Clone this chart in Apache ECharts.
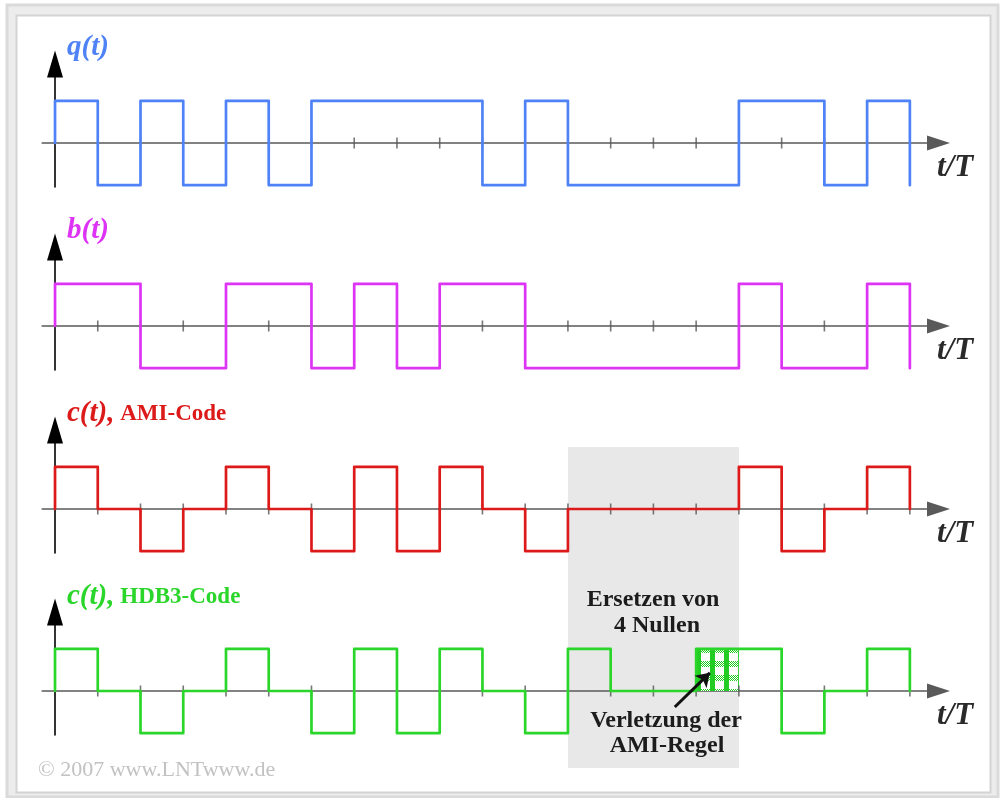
<!DOCTYPE html>
<html>
<head>
<meta charset="utf-8">
<script src="https://cdn.jsdelivr.net/npm/echarts@6/dist/echarts.min.js"></script>
<style>
  html, body { margin: 0; padding: 0; background: #fff; }
  #chart { width: 1002px; height: 798px; }
</style>
</head>
<body>
<div id="chart"></div>
<script>
// One value per bit period T (20 bits)
const qValues    = [1, -1, 1, -1, 1, -1, 1, 1, 1, 1, -1, 1, -1, -1, -1, -1, 1, 1, -1, 1];
const bValues    = [1, 1, -1, -1, 1, 1, -1, 1, -1, 1, 1, -1, -1, -1, -1, -1, 1, -1, -1, 1];
const amiValues  = [1, 0, -1, 0, 1, 0, -1, 1, -1, 1, 0, -1, 0, 0, 0, 0, 1, -1, 0, 1];
const hdb3Values = [1, 0, -1, 0, 1, 0, -1, 1, -1, 1, 0, -1, 1, 0, 0, 1, 1, -1, 0, 1];

// level before t = 0 and after the last bit, per panel
const startLevels = [0, 0, 0, 0];
const endLevels   = [-1, -1, 0, 0];

// bit boundaries marked on the time axis
const tickPositions = [1, 2, 3, 4, 5, 6, 7, 8, 9, 10, 11, 12, 13, 14, 15, 16, 17, 18, 19, 20];

// four zeros replaced by the HDB3 rule, and the violating pulse
const zeroRun = [12, 16];
const violationBit = [15, 16];
// arrow pointing at the violation: tail and head in (t/T, amplitude)
const arrowTail = [14.5, -0.38];
const arrowHead = [15.32, 0.43];

const panelLabels = [
  { parts: [['i', 'q(t)']], color: '#4f82f7' },
  { parts: [['i', 'b(t)']], color: '#dd33f5' },
  { parts: [['i', 'c(t),'], ['n', ' AMI-Code']], color: '#dd1a1a' },
  { parts: [['i', 'c(t),'], ['n', ' HDB3-Code']], color: '#2ad62a' }
];
const signalColors = ['#4f82f7', '#dd33f5', '#dd1a1a', '#2ad62a'];
const signals = [qValues, bValues, amiValues, hdb3Values];

// ---- layout ----
const zeroY = [143, 326, 509, 691];
const AMP = 42.2;
const Y_MIN = -1.04, Y_MAX = 1.87;
const X_MIN = -0.3, X_MAX = 20.67;
const GRID_LEFT = 42.2, GRID_W = 896.3;

function stepPoints(vals, startLevel, endLevel) {
  const pts = [[0, startLevel]];
  vals.forEach((v, i) => { pts.push([i, v], [i + 1, v]); });
  pts.push([vals.length, endLevel]);
  return pts;
}

// green checkered fill for the violation pulse
function checkerPattern() {
  const c = document.createElement('canvas');
  c.width = 14; c.height = 14;
  const g = c.getContext('2d');
  g.fillStyle = '#ffffff';
  g.fillRect(0, 0, 14, 14);
  g.fillStyle = '#22cc22';
  for (let y = 0; y < 14; y++) {
    for (let x = 0; x < 14; x++) {
      const col = ((x - 10 + 28) % 14) < 5;
      const row = ((y - 3 + 28) % 14) < 6 && ((x + y) % 2 === 0);
      if (col || row) g.fillRect(x, y, 1, 1);
    }
  }
  return c;
}

const grids = [], xAxes = [], yAxes = [], series = [];
zeroY.forEach((z, k) => {
  grids.push({ left: GRID_LEFT, width: GRID_W, top: z - Y_MAX * AMP, height: (Y_MAX - Y_MIN) * AMP });
  xAxes.push({
    gridIndex: k, type: 'value', min: X_MIN, max: X_MAX,
    axisLine: { show: true, onZero: true, symbol: ['none', 'triangle'], symbolSize: [15, 23],
      lineStyle: { color: '#5a5a5a', width: 1.6 } },
    axisTick: { show: false }, axisLabel: { show: false }, splitLine: { show: false }
  });
  yAxes.push({
    gridIndex: k, type: 'value', min: Y_MIN, max: Y_MAX,
    axisLine: { show: true, onZero: true, symbol: ['none', 'triangle'], symbolSize: [16, 27],
      lineStyle: { color: '#000', width: 1.6 } },
    axisTick: { show: false }, axisLabel: { show: false }, splitLine: { show: false }
  });
  series.push({
    type: 'scatter', xAxisIndex: k, yAxisIndex: k, silent: true,
    symbol: 'rect', symbolSize: [1.6, 11],
    itemStyle: { color: '#555' },
    data: tickPositions.map(t => [t, 0])
  });
  const s = {
    type: 'line', xAxisIndex: k, yAxisIndex: k, silent: true,
    showSymbol: false, symbol: 'none', animation: false,
    lineStyle: { color: signalColors[k], width: 2.7, join: 'round', cap: 'round' },
    data: stepPoints(signals[k], startLevels[k], endLevels[k])
  };
  if (k === 3) {
    s.markArea = {
      silent: true,
      itemStyle: { color: { image: checkerPattern(), repeat: 'repeat' } },
      data: [[{ xAxis: violationBit[0], yAxis: 0 }, { xAxis: violationBit[1], yAxis: hdb3Values[violationBit[0]] }]]
    };
    s.markLine = {
      silent: true, animation: false,
      symbol: ['none', 'arrow'], symbolSize: 13,
      label: { show: false },
      lineStyle: { color: '#111', width: 3, type: 'solid' },
      data: [[{ coord: arrowTail }, { coord: arrowHead }]]
    };
  }
  series.push(s);
});

const chart = echarts.init(document.getElementById('chart'), null, { renderer: 'canvas' });
chart.setOption({
  animation: false,
  backgroundColor: '#ffffff',
  grid: grids, xAxis: xAxes, yAxis: yAxes, series: series
});

// decorations and texts (after the scales exist)
const px0 = chart.convertToPixel({ gridIndex: 2 }, [zeroRun[0], 0])[0];
const px1 = chart.convertToPixel({ gridIndex: 2 }, [zeroRun[1], 0])[0];

const serif = '"Liberation Serif", "DejaVu Serif", serif';
const graphics = [
  // frame
  { type: 'rect', z: -3, silent: true, shape: { x: 7, y: 5, width: 991, height: 792 },
    style: { fill: '#ececec', stroke: '#dadada', lineWidth: 3 } },
  { type: 'rect', z: -2, silent: true, shape: { x: 16.5, y: 15.5, width: 974, height: 777 },
    style: { fill: '#ffffff', stroke: '#d4d4d4', lineWidth: 2 } },
  // region of the replaced zeros
  { type: 'rect', z: -1, silent: true, shape: { x: px0, y: 447, width: px1 - px0, height: 321 },
    style: { fill: '#e8e8e8' } }
];

const labelY = [48, 231, 414, 597];
panelLabels.forEach((lab, k) => {
  graphics.push({
    type: 'text', silent: true, x: 67, y: labelY[k],
    style: {
      text: lab.parts.map(p => '{' + p[0] + '|' + p[1] + '}').join(''),
      verticalAlign: 'middle', align: 'left',
      rich: {
        i: { font: 'italic bold 29px ' + serif, fill: lab.color },
        n: { font: 'bold 23px ' + serif, fill: lab.color }
      }
    }
  });
  graphics.push({
    type: 'text', silent: true, x: 937, y: zeroY[k] + 25,
    style: { text: 't/T', font: 'italic bold 31px ' + serif, fill: '#2a2a2a',
      align: 'left', verticalAlign: 'middle' }
  });
});

const noteFont = 'bold 24px ' + serif;
[['Ersetzen von', 653, 600], ['4 Nullen', 657, 626], ['Verletzung der', 666, 721], ['AMI-Regel', 667, 746]]
  .forEach(([t, x, y]) => {
    graphics.push({ type: 'text', silent: true, x: x, y: y,
      style: { text: t, font: noteFont, fill: '#1c1c1c', align: 'center', verticalAlign: 'middle' } });
  });

graphics.push({ type: 'text', silent: true, x: 38, y: 770,
  style: { text: '© 2007 www.LNTwww.de', font: '22px ' + serif, fill: '#c2c2c2',
    align: 'left', verticalAlign: 'middle' } });

chart.setOption({ graphic: graphics });
</script>
</body>
</html>
